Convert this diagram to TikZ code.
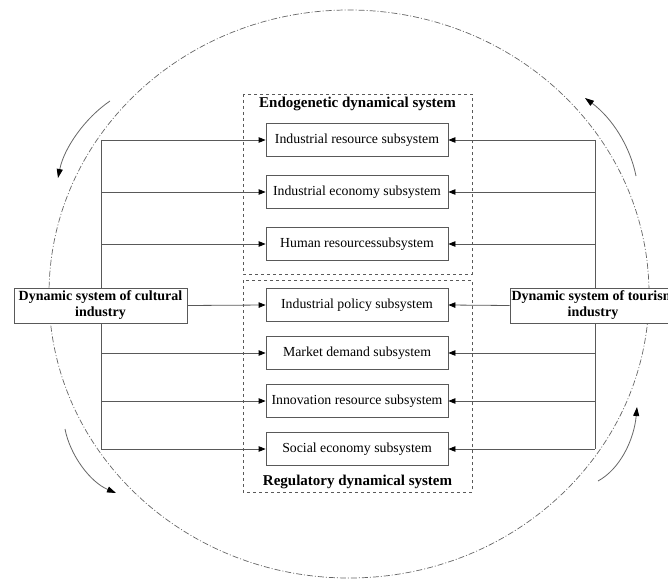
\documentclass[tikz,border=0pt]{standalone}
\usepackage{fontspec}
\setmainfont{Liberation Serif}
\usetikzlibrary{arrows.meta}
\begin{document}
\begin{tikzpicture}[x=1pt,y=-1pt,
  ln/.style={draw=black!65, line width=0.8pt},
  arr/.style={ln, -{Triangle[length=7pt,width=5.5pt,color=black]}},
  sub/.style={ln, fill=white, minimum width=182pt, minimum height=33pt, inner sep=0pt, font=\fontsize{13.8}{15}\selectfont},
  big/.style={ln, fill=white, inner sep=0pt, align=center, font=\fontsize{14}{16}\selectfont\bfseries},
  grp/.style={draw=black!65, line width=0.8pt, dashed},
  ttl/.style={font=\fontsize{15}{17}\selectfont\bfseries},
  circ/.style={draw=black!60, line width=0.7pt, dash pattern=on 6pt off 2pt on 1pt off 2pt},
  carr/.style={draw=black!60, line width=0.8pt, -{Triangle[length=9pt,width=6pt,color=black]}}
]
\useasboundingbox (0,0) rectangle (668,580);
\clip (0,0) rectangle (668,580);
% outer dash-dot ellipse
\draw[circ] (349,294) ellipse [x radius=300, y radius=284];
% group boxes
\draw[grp] (243,94) rectangle (472,274);
\draw[grp] (243,280) rectangle (472,492);
\node[ttl] (tEndo) at (357.5,104) {Endogenetic dynamical system};
\node[ttl] (tReg) at (357.5,482) {Regulatory dynamical system};
% subsystem boxes
\node[sub] (s1) at (357,140) {Industrial resource subsystem};
\node[sub] (s2) at (357,192) {Industrial economy subsystem};
\node[sub] (s3) at (357,244) {Human resourcessubsystem};
\node[sub] (s4) at (357,305) {Industrial policy subsystem};
\node[sub] (s5) at (357,353) {Market demand subsystem};
\node[sub] (s6) at (357,401) {Innovation resource subsystem};
\node[sub] (s7) at (357,449) {Social economy subsystem};
% bus coordinates
\coordinate (L1) at (101,140); \coordinate (L2) at (101,192); \coordinate (L3) at (101,244);
\coordinate (L5) at (101,353); \coordinate (L6) at (101,401); \coordinate (L7) at (101,449);
\coordinate (R1) at (595,140); \coordinate (R2) at (595,192); \coordinate (R3) at (595,244);
\coordinate (R5) at (595,353); \coordinate (R6) at (595,401); \coordinate (R7) at (595,449);
\draw[ln] (L1) -- (L7);
\draw[ln] (R1) -- (R7);
% side boxes
\node[big, minimum width=173pt, minimum height=35pt] (cul) at (100.5,305.5) {Dynamic system of cultural\\industry};
\node[big, minimum width=166pt, minimum height=35pt] (tour) at (593,305.5) {Dynamic system of tourism\\industry};
% connectors
\foreach \i in {1,2,3,5,6,7}{
  \draw[arr] (L\i) -- (s\i.west);
  \draw[arr] (R\i) -- (s\i.east);
}
\draw[arr] (cul.east) -- (s4.west);
\draw[arr] (tour.west) -- (s4.east);
% circulation arrows
\draw[carr] (110,101) .. controls (85,118) and (64,148) .. (58,178);
\draw[carr] (636,176) .. controls (630,146) and (612,118) .. (585,98);
\draw[carr] (65,429) .. controls (70,455) and (90,482) .. (116,493);
\draw[carr] (598,481) .. controls (620,469) and (634,440) .. (637,407);
\end{tikzpicture}
\end{document}
